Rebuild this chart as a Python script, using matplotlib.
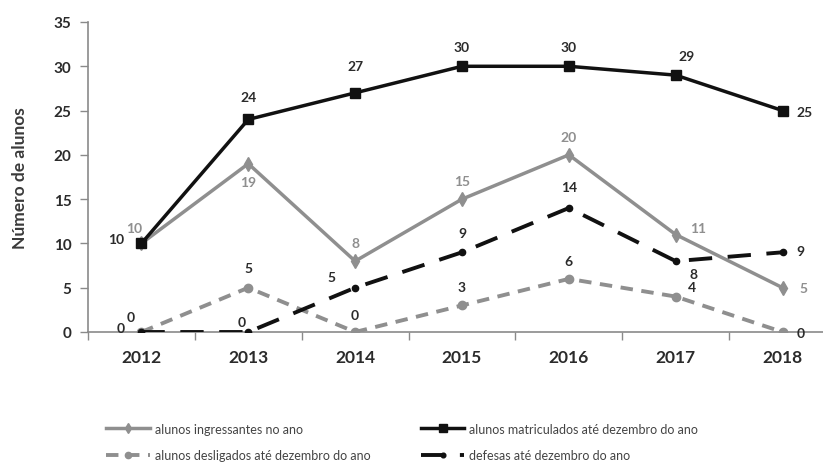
import matplotlib
matplotlib.use("Agg")
import matplotlib.pyplot as plt

years = ["2012", "2013", "2014", "2015", "2016", "2017", "2018"]
ingressantes = [10, 19, 8, 15, 20, 11, 5]
matriculados = [10, 24, 27, 30, 30, 29, 25]
desligados = [0, 5, 0, 3, 6, 4, 0]
defesas = [0, 0, 5, 9, 14, 8, 9]

labels = [
    "alunos ingressantes no ano",
    "alunos matriculados até dezembro do ano",
    "alunos desligados até dezembro do ano",
    "defesas até dezembro do ano",
]

plt.rcParams["font.family"] = ["Lato", "DejaVu Sans"]

GRAY = "#8f8f8f"
DARK = "#111111"
TXT = "#2b2b2b"

fig = plt.figure(figsize=(8.23, 4.64), dpi=100)
ax = fig.add_axes([88 / 823, 131 / 464, 748 / 823, 310 / 464])

x = list(range(len(years)))

l_ing, = ax.plot(x, ingressantes, color=GRAY, lw=2.5, marker="d", ms=7,
                 label=labels[0], zorder=3)
l_mat, = ax.plot(x, matriculados, color=DARK, lw=2.5, marker="s", ms=7,
                 label=labels[1], zorder=4)
l_des, = ax.plot(x, desligados, color=GRAY, lw=2.8, marker="o", ms=6,
                 dashes=(3.2, 2.2), label=labels[2], zorder=3)
l_def, = ax.plot(x, defesas, color=DARK, lw=2.8, marker="o", ms=4.5,
                 dashes=(6, 4), label=labels[3], zorder=4)

ax.set_xlim(-0.5, 6.5)
ax.set_ylim(0, 35)
ax.set_yticks(range(0, 36, 5))
ax.set_xticks(x)
ax.set_xticklabels(years, fontsize=12.5, fontweight="bold", color=TXT)
ax.set_xticks([i - 0.5 for i in range(8)], minor=True)
ax.tick_params(axis="x", which="major", length=0, pad=12)
ax.tick_params(axis="x", which="minor", length=6, color="#8a8a8a", width=1)
ax.tick_params(axis="y", length=6, color="#8a8a8a", width=1,
               labelsize=11, labelcolor=TXT, pad=6)
for lab in ax.get_yticklabels():
    lab.set_fontweight("bold")

for s in ("top", "right"):
    ax.spines[s].set_visible(False)
for s in ("left", "bottom"):
    ax.spines[s].set_color("#8a8a8a")
    ax.spines[s].set_linewidth(1.2)

ax.set_ylabel("Número de alunos", fontsize=12.5, fontweight="bold",
              color="#3a3a3a", labelpad=18)

def put(series, offsets, color):
    for i, (v, off) in enumerate(zip(series, offsets)):
        ax.annotate(str(v), (i, v), xytext=off, textcoords="offset points",
                    ha="center", va="center", fontsize=10,
                    fontweight="bold", color=color, zorder=6)

put(matriculados, [(-18, 3), (0, 16), (0, 19), (0, 14), (0, 14), (8, 14), (16, -1)], TXT)
put(ingressantes, [(-5, 11), (0, -13), (0, 13), (0, 13), (0, 13), (16, 5), (15, 0)], GRAY)
put(desligados, [(-8, 11), (0, 14), (0, 12), (0, 13), (0, 13), (12, 7), (13, -1)], TXT)
put(defesas, [(-15, 3), (-5, 7), (-17, 8), (0, 14), (0, 15), (13, -9), (13, 1)], TXT)

# two rows: ingressantes / matriculados on top, desligados / defesas below
leg = fig.legend(handles=[l_ing, l_des, l_mat, l_def],
                 labels=[labels[0], labels[2], labels[1], labels[3]],
                 loc="lower left", bbox_to_anchor=(95 / 823, -0.02),
                 ncol=2, frameon=False, fontsize=9, handlelength=3.5,
                 handletextpad=0.4, columnspacing=4.0, labelspacing=1.15,
                 markerscale=0.75)
for t in leg.get_texts():
    t.set_color("#444444")

fig.savefig("out.png", dpi=100)
